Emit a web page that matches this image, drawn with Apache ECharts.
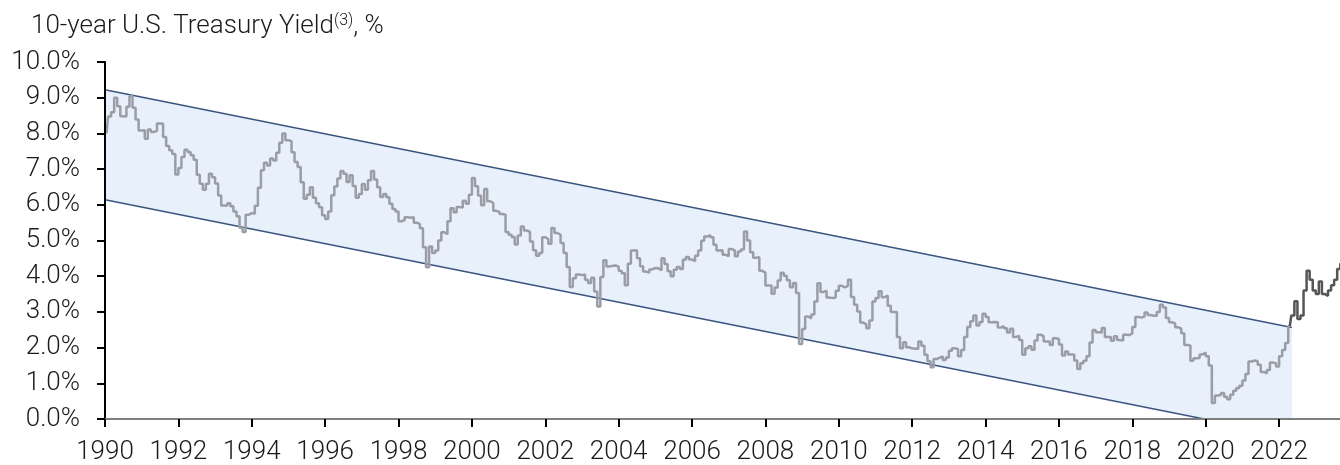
<!DOCTYPE html>
<html>
<head>
<meta charset="utf-8">
<title>10-year U.S. Treasury Yield</title>
<script src="https://cdn.jsdelivr.net/npm/echarts@6/dist/echarts.min.js"></script>
<style>
  html, body { margin: 0; padding: 0; background: #fff; }
  #chart { width: 1340px; height: 465px; }
</style>
</head>
<body>
<div id="chart"></div>
<script>
// monthly 10y yield, Jan 1990 .. Apr 2022 (grey part, inside the channel)
var startYear = 1990;
var monthlyYield = [
  8.00, 8.47, 8.59, 9.00, 8.76, 8.48, 8.47, 8.75, 9.05, 8.72, 8.39, 8.08, // 1990
  8.09, 7.85, 8.11, 8.04, 8.07, 8.28, 8.27, 7.90, 7.65, 7.53, 7.42, 6.85, // 1991
  7.03, 7.34, 7.54, 7.48, 7.39, 7.26, 6.84, 6.59, 6.42, 6.59, 6.87, 6.77, // 1992
  6.60, 6.26, 5.98, 5.97, 6.04, 5.96, 5.81, 5.68, 5.36, 5.24, 5.72, 5.77, // 1993
  5.75, 5.97, 6.48, 6.97, 7.18, 7.10, 7.30, 7.24, 7.46, 7.74, 8.00, 7.81, // 1994
  7.78, 7.47, 7.20, 7.06, 6.63, 6.17, 6.28, 6.49, 6.20, 6.04, 5.93, 5.71, // 1995
  5.60, 5.81, 6.27, 6.51, 6.74, 6.95, 6.87, 6.64, 6.83, 6.53, 6.20, 6.30, // 1996
  6.58, 6.42, 6.69, 6.95, 6.71, 6.49, 6.22, 6.30, 6.21, 6.03, 5.88, 5.81, // 1997
  5.54, 5.57, 5.65, 5.64, 5.65, 5.50, 5.46, 5.34, 4.81, 4.25, 4.83, 4.65, // 1998
  4.72, 5.00, 5.23, 5.18, 5.54, 5.90, 5.79, 5.94, 5.92, 6.11, 6.03, 6.28, // 1999
  6.75, 6.52, 6.26, 5.99, 6.44, 6.10, 6.05, 5.83, 5.80, 5.74, 5.72, 5.24, // 2000
  5.16, 5.10, 4.89, 5.14, 5.39, 5.28, 5.24, 4.97, 4.73, 4.57, 4.65, 5.09, // 2001
  5.04, 4.91, 5.35, 5.21, 5.16, 4.93, 4.65, 4.26, 3.70, 3.94, 4.05, 4.03, // 2002
  4.05, 3.90, 3.81, 3.96, 3.57, 3.15, 3.98, 4.45, 4.27, 4.29, 4.30, 4.27, // 2003
  4.15, 4.08, 3.75, 4.35, 4.72, 4.73, 4.50, 4.28, 4.13, 4.10, 4.19, 4.23, // 2004
  4.22, 4.17, 4.50, 4.34, 4.14, 4.00, 4.18, 4.26, 4.20, 4.46, 4.54, 4.47, // 2005
  4.42, 4.57, 4.72, 4.99, 5.11, 5.15, 5.09, 4.88, 4.72, 4.73, 4.60, 4.56, // 2006
  4.76, 4.72, 4.56, 4.69, 4.75, 5.25, 5.00, 4.67, 4.52, 4.53, 4.15, 4.10, // 2007
  3.74, 3.74, 3.51, 3.68, 3.88, 4.10, 4.01, 3.89, 3.69, 3.81, 3.53, 2.10, // 2008
  2.52, 2.87, 2.82, 2.93, 3.29, 3.80, 3.56, 3.59, 3.40, 3.39, 3.40, 3.59, // 2009
  3.73, 3.69, 3.73, 3.90, 3.42, 3.20, 3.01, 2.70, 2.65, 2.54, 2.76, 3.29, // 2010
  3.39, 3.58, 3.41, 3.46, 3.17, 3.00, 3.00, 2.30, 1.98, 2.15, 2.01, 1.98, // 2011
  1.97, 1.97, 2.17, 2.05, 1.80, 1.62, 1.45, 1.68, 1.72, 1.75, 1.65, 1.72, // 2012
  1.91, 1.98, 1.96, 1.76, 1.93, 2.30, 2.58, 2.74, 2.90, 2.62, 2.72, 2.95, // 2013
  2.86, 2.71, 2.72, 2.71, 2.56, 2.60, 2.54, 2.42, 2.53, 2.30, 2.33, 2.21, // 2014
  1.80, 1.98, 2.04, 1.94, 2.20, 2.36, 2.32, 2.17, 2.17, 2.07, 2.26, 2.24, // 2015
  2.09, 1.78, 1.89, 1.81, 1.81, 1.64, 1.40, 1.56, 1.63, 1.76, 2.14, 2.49, // 2016
  2.43, 2.42, 2.55, 2.30, 2.30, 2.19, 2.32, 2.21, 2.20, 2.36, 2.35, 2.40, // 2017
  2.58, 2.86, 2.84, 2.87, 2.98, 2.91, 2.89, 2.89, 3.00, 3.20, 3.12, 2.83, // 2018
  2.71, 2.68, 2.57, 2.53, 2.40, 2.07, 2.06, 1.63, 1.70, 1.71, 1.81, 1.86, // 2019
  1.76, 1.50, 0.45, 0.66, 0.67, 0.73, 0.62, 0.55, 0.68, 0.79, 0.87, 0.93, // 2020
  1.08, 1.26, 1.61, 1.64, 1.62, 1.52, 1.32, 1.28, 1.37, 1.58, 1.56, 1.47, // 2021
  1.76, 1.93, 2.13, 2.60                                                  // 2022
];
// Apr 2022 .. Sep 2023 (dark part, after the break-out)
var recentStart = 2022 + 3 / 12;
var recentYield = [2.60, 2.90, 3.30, 2.80, 2.90, 3.60, 4.15, 3.90, 3.60, 3.50, 3.85, 3.50, 3.45, 3.60, 3.75, 3.90, 4.20, 4.35];

// channel: [year, %]
var channelTop = [[1990, 9.22], [2022.35, 2.56]];
var channelBottom = [[1990, 6.14], [2019.96, 0]];
var fillEnd = 2022.35;

var yTicks = [0, 1, 2, 3, 4, 5, 6, 7, 8, 9, 10];

var greyData = monthlyYield.map(function (v, i) { return [startYear + (i + 0.5) / 12, v]; });
var darkData = recentYield.map(function (v, i) { return [recentStart + (i + 0.5) / 12, v]; });
var channelPoly = [channelTop[0], channelTop[1], [fillEnd, 0], channelBottom[1], channelBottom[0]];

var chart = echarts.init(document.getElementById('chart'));
var FONT = 'Roboto';
var option = {
  animation: false,
  title: {
    text: '10-year U.S. Treasury Yield{sup|(3)}, %',
    left: 26,
    top: 8,
    textStyle: {
      fontFamily: FONT, fontWeight: 300, fontSize: 26, color: '#1a1a1a',
      rich: {
        sup: { fontFamily: FONT, fontWeight: 300, fontSize: 16, color: '#1a1a1a', verticalAlign: 'top', padding: [0, 0, 10, 0] }
      }
    }
  },
  grid: { left: 105, right: 0, top: 62, bottom: 46, outerBoundsMode: 'none' },
  xAxis: {
    type: 'value',
    min: 1990,
    max: 2023.66,
    interval: 2,
    z: 5,
    splitLine: { show: false },
    axisLine: { lineStyle: { color: '#7f7f7f', width: 2 } },
    axisTick: { length: 8, lineStyle: { color: '#000', width: 2 } },
    axisLabel: {
      margin: 20, showMaxLabel: false,
      fontFamily: FONT, fontWeight: 300, fontSize: 26, color: '#1a1a1a',
      formatter: function (v) { return String(v); }
    }
  },
  yAxis: {
    type: 'value',
    min: yTicks[0],
    max: yTicks[yTicks.length - 1],
    interval: 1,
    z: 5,
    splitLine: { show: false },
    axisLine: { show: true, lineStyle: { color: '#000', width: 2 } },
    axisTick: { show: true, length: 8, lineStyle: { color: '#000', width: 2 } },
    axisLabel: {
      margin: 25,
      fontFamily: FONT, fontWeight: 300, fontSize: 26, color: '#1a1a1a',
      formatter: function (v) { return v.toFixed(1) + '%'; }
    }
  },
  series: [
    {
      type: 'custom',
      z: 1,
      silent: true,
      data: [[1990, 0]],
      renderItem: function (params, api) {
        return {
          type: 'polygon',
          shape: { points: channelPoly.map(function (p) { return api.coord(p); }) },
          style: { fill: '#e8f0fc' }
        };
      }
    },
    {
      type: 'line', z: 2, symbol: 'none', silent: true,
      data: channelTop,
      lineStyle: { color: '#3b5580', width: 1.5 }
    },
    {
      type: 'line', z: 2, symbol: 'none', silent: true,
      data: channelBottom,
      lineStyle: { color: '#3b5580', width: 1.5 }
    },
    {
      type: 'line', z: 3, symbol: 'none', step: 'middle',
      data: greyData,
      lineStyle: { color: '#9a9da5', width: 2.5 }
    },
    {
      type: 'line', z: 3, symbol: 'none', step: 'middle',
      data: darkData,
      lineStyle: { color: '#555555', width: 2.5 },
      markLine: {
        silent: true, symbol: 'none', label: { show: false },
        lineStyle: { color: '#000', width: 2, type: 'solid' },
        data: [[{ coord: [fillEnd, 0] }, { coord: [2023.66, 0] }]]
      }
    }
  ]
};
chart.setOption(option);
</script>
</body>
</html>
